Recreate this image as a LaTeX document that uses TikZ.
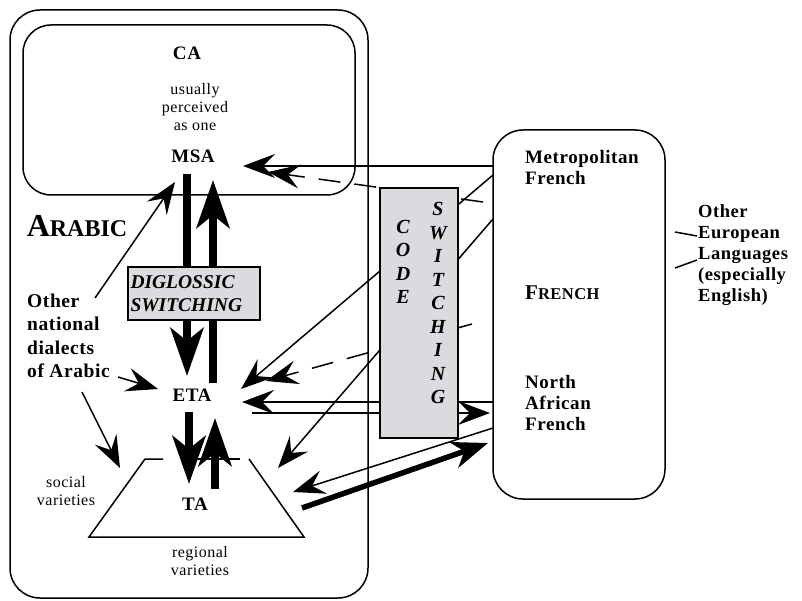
\documentclass[tikz,border=0pt]{standalone}
\usepackage{fontspec}
\setmainfont{Liberation Serif}
\newfontfamily\spaced[LetterSpace=3]{Liberation Serif}
\usetikzlibrary{arrows.meta,positioning}
\definecolor{boxgray}{RGB}{218,219,222}
\tikzset{
  rule/.style={line width=1.5pt},
  bigtip/.style={-{Stealth[length=32pt,width=24pt,inset=12pt]}},
  fattip/.style={-{Stealth[length=48pt,width=33pt,inset=13pt]}},
  bar/.style={line width=8pt, fattip},
  dashline/.style={dash pattern=on 22pt off 14pt},
  lblbig/.style={font=\spaced\bfseries\fontsize{19}{21}\selectfont, inner sep=0pt},
  lblside/.style={font=\spaced\bfseries\fontsize{19}{21}\selectfont, align=left, anchor=west, inner sep=0pt},
  lblnote/.style={font=\spaced\fontsize{16}{18}\selectfont, align=center, inner sep=0pt},
  lblsw/.style={font=\bfseries\itshape\fontsize{20}{23.5}\selectfont, align=center, inner sep=0pt},
  gbox/.style={rule, draw, fill=boxgray},
}
\begin{document}
\begin{tikzpicture}[x=1pt, y=-1pt]
  \useasboundingbox (0,0) rectangle (802,601);
  % Arabic side
  \draw[rule, rounded corners=30pt] (10,10) rectangle (368,598);
  \draw[rule, rounded corners=28pt] (23,25) rectangle (355,195);
  \node[lblbig] (ca) at (187,53) {CA};
  \node[lblnote] (one) at (195,107) {usually\\perceived\\as one};
  \node[lblbig] (msa) at (193,156) {MSA};
  \node[font=\bfseries, inner sep=0pt] (arabic) at (77,226)
    {\fontsize{32}{32}\selectfont A\fontsize{24}{24}\selectfont RABIC};
  \node[lblside, font=\spaced\bfseries\fontsize{19.5}{23.5}\selectfont] (dial) at (27,336)
    {Other\\national\\dialects\\of Arabic};
  \node[lblbig] (eta) at (192,395) {ETA};
  \node[lblbig] (ta) at (195,504) {TA};
  \node[lblnote] (social) at (66,491) {social\\varieties};
  \node[lblnote] (regional) at (200,561) {regional\\varieties};
  \draw[rule] (163,459) -- (145,459) -- (89,537) -- (304,537) -- (249,459);
  \draw[rule] (197,459) -- (240,459);

  % French side
  \draw[rule, rounded corners=30pt] (493,130) rectangle (665,499);
  \node[lblside] (metro) at (525,167) {Metropolitan\\French};
  \node[font=\spaced\bfseries, anchor=west, inner sep=0pt] (french) at (525,293)
    {\fontsize{21}{21}\selectfont F\fontsize{16.5}{16.5}\selectfont RENCH};
  \node[lblside] (nafr) at (525,403) {North\\African\\French};
  \node[lblside, font=\spaced\bfseries\fontsize{18.5}{21}\selectfont] (euro) at (698,255)
    {Other\\European\\Languages\\(especially\\English)};
  \draw[rule] (675,232) -- (697,236);
  \draw[rule] (675,268) -- (697,260);

  % connectors
  \foreach \n/\x/\y in {fMa/493/166, mE/243/166, fDa/483/202, mD/268/172,
      fMb/493/175, eN/241/389, fMc/493/219, tN/278/468, fDb/472/324, eD/266/381,
      fNa/493/402, eE/242/402, eS/252/413, fNb/490/413, fNc/493/428, tE/293/492,
      tS/302/508, fNd/488/443, dA/95/298, mS/175/182, dB/118/377, eW/158/389,
      dC/82/392, tW/120/468}
    \coordinate (\n) at (\x,\y);
  \foreach \a/\b in {fMa/mE, fMb/eN, fMc/tN, fNa/eE, eS/fNb, fNc/tE, dA/mS, dB/eW, dC/tW}
    \draw[rule, bigtip] (\a) -- (\b);
  \foreach \a/\b in {fDa/mD, fDb/eD}
    \draw[rule, bigtip, dashline] (\a) -- (\b);
  \draw[line width=5.5pt, -{Stealth[length=36pt,width=27pt,inset=11pt]}] (tS) -- (fNd);

  % diglossic switching
  \draw[bar] (187,174) -- (187,376);
  \draw[bar] (213,383) -- (213,180);
  \draw[bar] (189,412) -- (189,484);
  \draw[bar] (215,489) -- (215,418);
  \node[gbox, minimum width=132pt, minimum height=53pt, text width=127pt, inner xsep=2.5pt,
    align=left, font=\bfseries\itshape\fontsize{19.5}{22.5}\selectfont] (dig) at (194,293.5)
    {DIGLOSSIC\\SWITCHING};

  % code switching
  \node[gbox, minimum width=78pt, minimum height=250pt] (cs) at (419,313) {};
  \node[lblsw] (code) at (403,262) {C\\O\\D\\E};
  \node[lblsw] (switch) at (438,303) {S\\W\\I\\T\\C\\H\\I\\N\\G};
\end{tikzpicture}
\end{document}
